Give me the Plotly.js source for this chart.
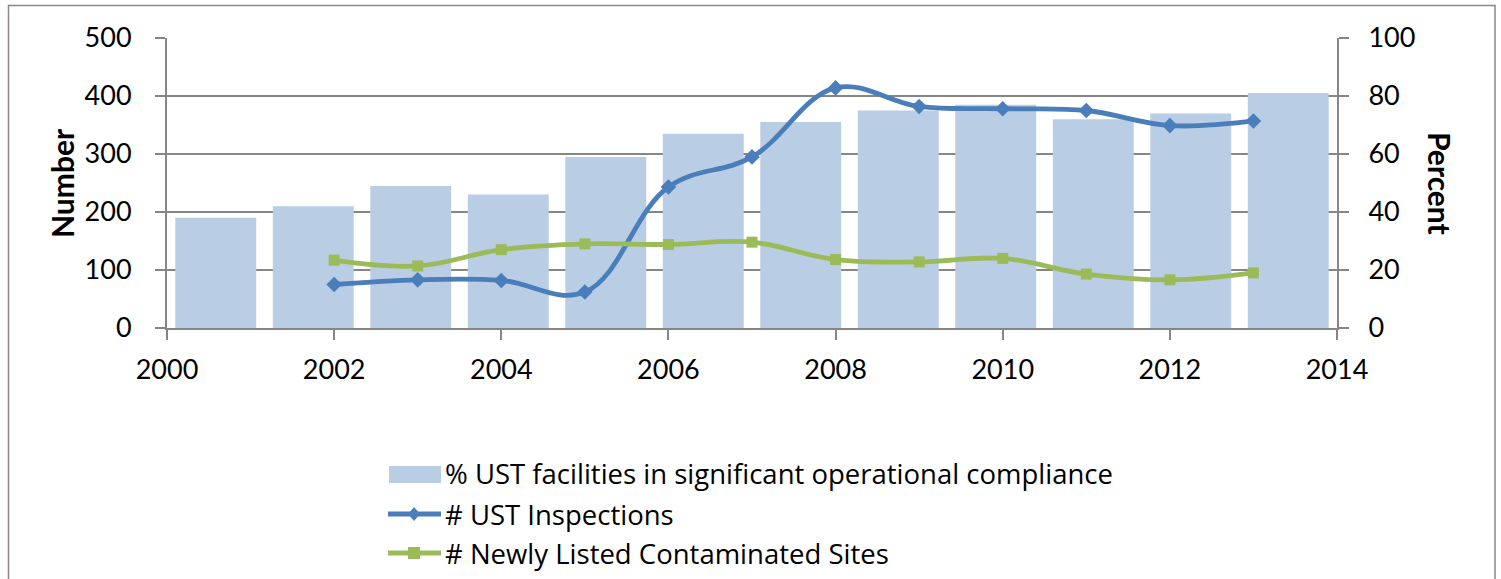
<!DOCTYPE html>
<html>
<head>
<meta charset="utf-8">
<script src="https://cdn.plot.ly/plotly-3.0.1.min.js"></script>
<style>
html,body{margin:0;padding:0;background:#fff;}
#chart{width:1501px;height:579px;}
</style>
</head>
<body>
<div id="chart"></div>
<script>
// Bar series (% UST facilities in significant operational compliance), one bar per category slot
const barCategories = ['2002','2003','2004','2005','2006','2007','2008','2009','2010','2011','2012','2013'];
const compliancePct = [38, 42, 49, 46, 59, 67, 71, 75, 77, 72, 74, 81];

// Line series (scatter on year axis)
const years = [2002, 2003, 2004, 2005, 2006, 2007, 2008, 2009, 2010, 2011, 2012, 2013];
const ustInspections = [75, 83, 82, 62, 243, 295, 414, 382, 378, 375, 349, 357];
const newlyListedSites = [117, 107, 135, 145, 144, 148, 118, 114, 120, 93, 83, 95];

const seriesNames = [
  '% UST facilities in significant operational compliance',
  '# UST Inspections',
  '# Newly Listed Contaminated Sites'
];
const colors = {bar: '#b9cde5', blue: '#4a7ebb', green: '#9bbb59'};

const FONT = 'Lato, "Liberation Sans", sans-serif';
const LFONT = '"Open Sans", Lato, sans-serif';
const AXIS = '#868686';

const traces = [
  {
    type: 'bar', name: seriesNames[0],
    x: barCategories, y: compliancePct, xaxis: 'x', yaxis: 'y',
    marker: {color: colors.bar}, width: 0.83, hoverinfo: 'y'
  },
  {
    type: 'scatter', mode: 'lines+markers', name: seriesNames[1],
    x: years, y: ustInspections, xaxis: 'x2', yaxis: 'y2',
    line: {color: colors.blue, width: 4.8, shape: 'spline', smoothing: 1.1},
    marker: {symbol: 'diamond', size: 12, color: colors.blue}
  },
  {
    type: 'scatter', mode: 'lines+markers', name: seriesNames[2],
    x: years, y: newlyListedSites, xaxis: 'x2', yaxis: 'y2',
    line: {color: colors.green, width: 4.8, shape: 'spline', smoothing: 1.1},
    marker: {symbol: 'square', size: 11, color: colors.green}
  }
];

const W = 1501, H = 579;
const PL = 167, PR = 164, PT = 38, PB = 251;
const PW = W - PL - PR, PH = H - PT - PB;
const px = v => (v - PL) / PW;
const py = v => (H - PB - v) / PH;

// custom legend (drawn with shapes + annotations)
const rows = [474, 514, 553];
const legendShapes = [
  {type: 'rect', xref: 'paper', yref: 'paper', x0: px(389), x1: px(441), y0: py(483), y1: py(466),
   fillcolor: colors.bar, line: {width: 0}, layer: 'above'},
  {type: 'line', xref: 'paper', yref: 'paper', x0: px(388), x1: px(441), y0: py(rows[1]), y1: py(rows[1]),
   line: {color: colors.blue, width: 5}, layer: 'above'},
  {type: 'path', xref: 'paper', yref: 'paper', layer: 'above', fillcolor: colors.blue, line: {width: 0},
   path: `M${px(414)},${py(rows[1]-7)} L${px(420)},${py(rows[1])} L${px(414)},${py(rows[1]+7)} L${px(408)},${py(rows[1])} Z`},
  {type: 'line', xref: 'paper', yref: 'paper', x0: px(388), x1: px(441), y0: py(rows[2]), y1: py(rows[2]),
   line: {color: colors.green, width: 5}, layer: 'above'},
  {type: 'rect', xref: 'paper', yref: 'paper', x0: px(408), x1: px(420), y0: py(rows[2]+6), y1: py(rows[2]-6),
   fillcolor: colors.green, line: {width: 0}, layer: 'above'}
];
const legendText = seriesNames.map((t, i) => ({
  text: t, xref: 'paper', yref: 'paper', x: px(443), y: py(rows[i]),
  xanchor: 'left', yanchor: 'middle', showarrow: false,
  font: {family: LFONT, size: 27.5, color: '#000'}
}));

const layout = {
  width: W, height: H,
  margin: {l: PL, r: PR, t: PT, b: PB, pad: 0},
  paper_bgcolor: '#fff', plot_bgcolor: 'rgba(0,0,0,0)',
  font: {family: FONT, color: '#000', size: 26},
  showlegend: false,
  barmode: 'overlay',
  xaxis: {
    type: 'category', range: [-0.5, 11.5], visible: false, fixedrange: true
  },
  yaxis: {
    side: 'right', range: [0, 100], dtick: 20, tick0: 0,
    showgrid: true, gridcolor: AXIS, gridwidth: 2, zeroline: false,
    showline: true, linecolor: AXIS, linewidth: 2,
    ticks: 'outside', ticklen: 10, tickcolor: AXIS, tickwidth: 2,
    ticklabelstandoff: 14,
    tickfont: {family: FONT, size: 27, color: '#000'}
  },
  xaxis2: {
    overlaying: 'x', anchor: 'y2', side: 'bottom',
    range: [2000, 2014], dtick: 2, tick0: 2000, showgrid: false, zeroline: false,
    showline: true, linecolor: AXIS, linewidth: 2,
    ticks: 'outside', ticklen: 10, tickcolor: AXIS, tickwidth: 2,
    ticklabelstandoff: 7,
    tickfont: {family: FONT, size: 27, color: '#000'}
  },
  yaxis2: {
    overlaying: 'y', anchor: 'x2', side: 'left',
    range: [0, 500], dtick: 100, tick0: 0, showgrid: false, zeroline: false,
    showline: true, linecolor: AXIS, linewidth: 2,
    ticks: 'outside', ticklen: 10, tickcolor: AXIS, tickwidth: 2,
    ticklabelstandoff: 18,
    tickfont: {family: FONT, size: 27, color: '#000'}
  },
  annotations: [
    {text: '<b>Number</b>', xref: 'paper', yref: 'paper', x: px(62), y: py(183),
     xanchor: 'center', yanchor: 'middle',
     showarrow: false, textangle: -90, font: {family: FONT, size: 30, color: '#000'}},
    {text: '<b>Percent</b>', xref: 'paper', yref: 'paper', x: px(1440), y: py(183),
     xanchor: 'center', yanchor: 'middle',
     showarrow: false, textangle: 90, font: {family: FONT, size: 30, color: '#000'}}
  ].concat(legendText),
  shapes: [
    {type: 'rect', xref: 'paper', yref: 'paper', x0: px(8.5), x1: px(1495), y0: py(640), y1: py(5.5),
     line: {color: '#8f8585', width: 1.5}, fillcolor: 'rgba(0,0,0,0)', layer: 'below'}
  ].concat(legendShapes)
};

Plotly.newPlot('chart', traces, layout, {displayModeBar: false, staticPlot: true});
</script>
</body>
</html>
